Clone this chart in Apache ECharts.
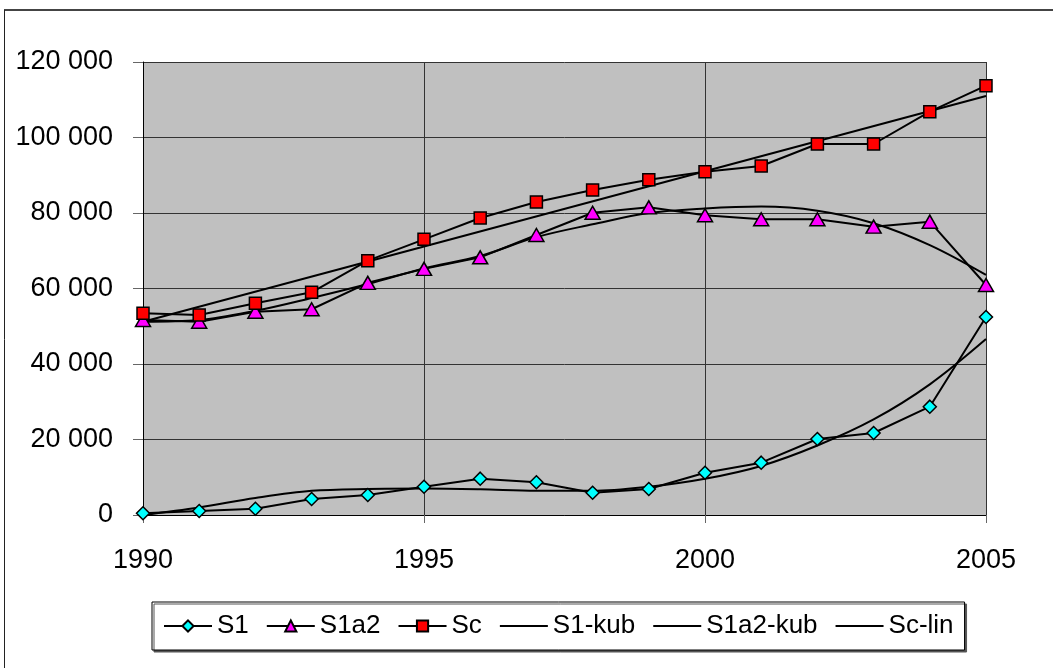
<!DOCTYPE html>
<html>
<head>
<meta charset="utf-8">
<script src="https://cdn.jsdelivr.net/npm/echarts@6/dist/echarts.min.js"></script>
<style>
  html, body { margin: 0; padding: 0; background: #ffffff; }
  #chart { width: 1053px; height: 668px; }
</style>
</head>
<body>
<div id="chart"></div>
<script>
// Years on the horizontal axis
const years = [1990, 1991, 1992, 1993, 1994, 1995, 1996, 1997, 1998, 1999, 2000, 2001, 2002, 2003, 2004, 2005];

// Measured series
const s1   = [450, 1060, 1670, 4240, 5300, 7500, 9620, 8660, 5900, 6890, 11200, 13860, 20130, 21720, 28700, 52450];
const s1a2 = [51650, 51200, 53850, 54500, 61500, 65200, 68260, 74170, 80080, 81500, 79400, 78330, 78330, 76380, 77700, 60930];
const sc   = [53430, 52980, 56080, 59000, 67370, 73030, 78680, 82910, 86090, 88830, 90950, 92450, 98280, 98280, 106840, 113720];

// Trend curves (cubic for S1 and S1a2, linear for Sc)
const s1Kub   = [0, 2000, 4500, 6400, 6900, 7000, 6800, 6400, 6400, 7500, 9600, 13000, 18400, 25300, 34600, 46600];
const s1a2Kub = [51200, 51650, 54100, 57500, 61200, 65300, 68600, 73600, 77000, 80000, 81200, 81700, 80600, 77300, 71500, 63600];
const scLinYears = [1990, 2005];
const scLin   = [51200, 111000];

// Axis ticks
const yTicks = [0, 20000, 40000, 60000, 80000, 100000, 120000];
const xTicks = [1990, 1995, 2000, 2005];

// Legend entries
const markerNames = ['S1', 'S1a2', 'Sc'];
const trendNames  = ['S1-kub', 'S1a2-kub', 'Sc-lin'];

const pairs = (xs, ys) => xs.map((x, i) => [x, ys[i]]);
const fmtThousands = v => String(v).replace(/\B(?=(\d{3})+(?!\d))/g, ' ');

const FONT = '"Liberation Sans", Arial, sans-serif';

const markerSeries = (name, data, symbol, size, color) => ({
  name, type: 'line', data,
  symbol, symbolSize: size, showSymbol: true,
  lineStyle: { color: '#000', width: 2 },
  itemStyle: { color, borderColor: '#000', borderWidth: 1.5 },
  emphasis: { disabled: true },
  z: 3
});

const trendSeries = (name, data, smooth) => ({
  name, type: 'line', data,
  symbol: 'none', showSymbol: false, smooth,
  lineStyle: { color: '#000', width: 2 },
  itemStyle: { color: '#000' },
  emphasis: { disabled: true },
  z: 2
});

const chart = echarts.init(document.getElementById('chart'), null, { renderer: 'canvas' });

chart.setOption({
  animation: false,
  backgroundColor: '#ffffff',
  graphic: [
    { type: 'line', shape: { x1: 4, y1: 10, x2: 1060, y2: 10 }, style: { stroke: '#444', lineWidth: 2 }, z: 0 },
    { type: 'line', shape: { x1: 4.5, y1: 10, x2: 4.5, y2: 680 }, style: { stroke: '#222', lineWidth: 1 }, z: 0 }
  ],
  grid: {
    left: 143, right: 67, top: 62, bottom: 153,
    show: true, backgroundColor: '#c0c0c0', borderWidth: 0
  },
  xAxis: {
    type: 'value', min: xTicks[0], max: xTicks[xTicks.length - 1], interval: 5,
    axisLine: { show: true, onZero: false, lineStyle: { color: '#000', width: 1 } },
    axisTick: { show: true, length: 8, lineStyle: { color: '#666' } },
    splitLine: { show: true, lineStyle: { color: '#333', width: 1 } },
    axisLabel: { color: '#000', fontSize: 27, fontFamily: FONT, margin: 32, formatter: v => String(v) }
  },
  yAxis: {
    type: 'value', min: yTicks[0], max: yTicks[yTicks.length - 1], interval: 20000,
    axisLine: { show: true, lineStyle: { color: '#000', width: 1 } },
    axisTick: { show: true, length: 10, lineStyle: { color: '#666' } },
    splitLine: { show: true, lineStyle: { color: '#333', width: 1 } },
    axisLabel: { color: '#000', fontSize: 27, fontFamily: FONT, margin: 30, formatter: v => fmtThousands(v) }
  },
  legend: {
    left: 152, top: 602, width: 900,
    padding: [11, 11, 11, 11],
    itemGap: 17,
    itemWidth: 48, itemHeight: 14,
    backgroundColor: '#fff',
    borderColor: '#000', borderWidth: 1,
    shadowColor: '#555', shadowOffsetX: 2, shadowOffsetY: 2, shadowBlur: 0,
    textStyle: { color: '#000', fontSize: 26, fontFamily: FONT },
    data: markerNames.map(name => ({ name }))
      .concat(trendNames.map(name => ({ name, itemStyle: { opacity: 0 } })))
  },
  series: [
    trendSeries(trendNames[0], pairs(years, s1Kub), 0.35),
    trendSeries(trendNames[1], pairs(years, s1a2Kub), 0.35),
    trendSeries(trendNames[2], pairs(scLinYears, scLin), false),
    markerSeries(markerNames[0], pairs(years, s1), 'diamond', 13, '#00ffff'),
    markerSeries(markerNames[1], pairs(years, s1a2), 'triangle', [15, 13], '#ff00ff'),
    markerSeries(markerNames[2], pairs(years, sc), 'rect', 12, '#ff0000')
  ]
});
</script>
</body>
</html>
